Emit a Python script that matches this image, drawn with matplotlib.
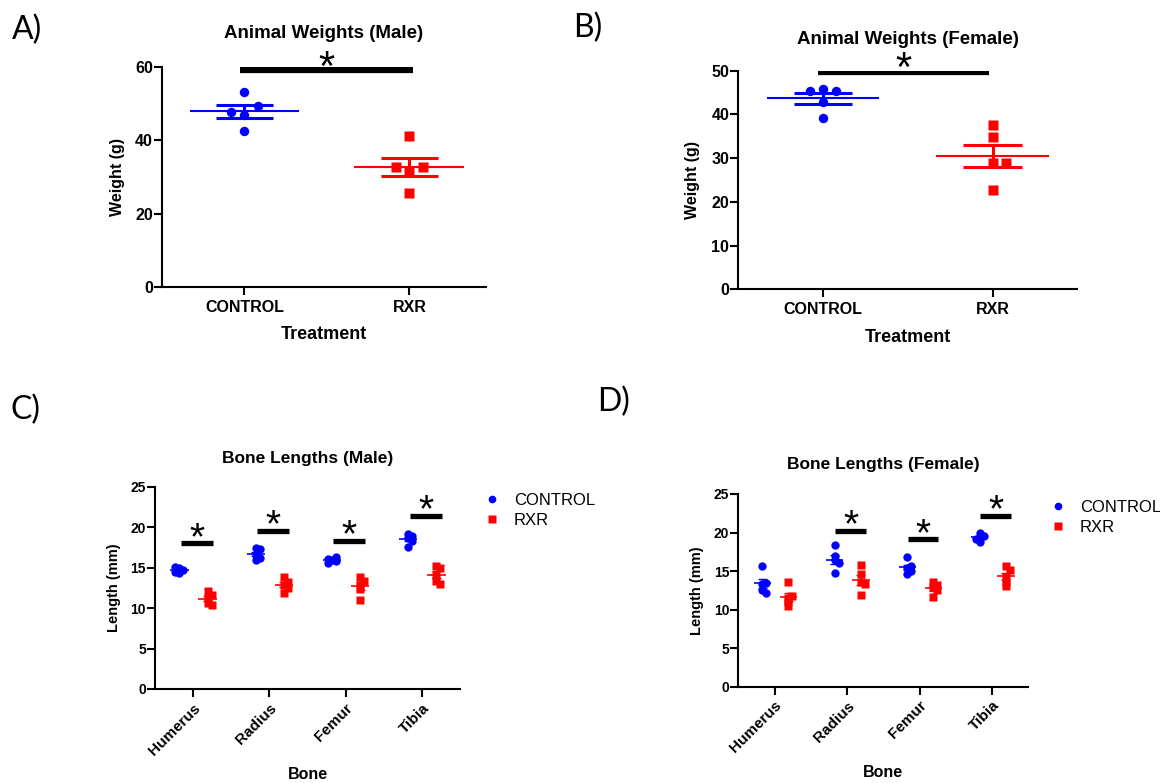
import numpy as np
import matplotlib
matplotlib.use("Agg")
import matplotlib.pyplot as plt
from matplotlib.lines import Line2D

# ---------------- data ----------------
groups = ["CONTROL", "RXR"]
weight_male_control = [53.1, 46.9, 42.6, 49.5, 47.6]
weight_male_rxr = [41.2, 31.7, 25.7, 32.8, 32.8]
weight_female_control = [45.7, 45.4, 45.4, 42.8, 39.2]
weight_female_rxr = [37.5, 34.8, 28.8, 28.8, 22.7]

bones = ["Humerus", "Radius", "Femur", "Tibia"]
male_control = [[14.9, 14.7, 15.1, 14.5, 14.3],
                [16.6, 17.4, 17.3, 16.2, 15.9],
                [16.0, 16.3, 15.8, 16.1, 15.6],
                [18.6, 19.2, 18.9, 18.3, 17.6]]
male_rxr = [[11.2, 12.1, 11.6, 10.6, 10.4],
            [12.9, 13.9, 13.2, 12.5, 11.9],
            [12.9, 13.8, 13.4, 12.3, 11.0],
            [14.1, 15.2, 14.9, 13.4, 13.0]]
female_control = [[13.3, 15.6, 13.5, 12.6, 12.2],
                  [16.4, 18.4, 16.9, 16.0, 14.8],
                  [15.4, 16.8, 15.6, 15.0, 14.6],
                  [19.4, 19.9, 19.6, 19.2, 18.8]]
female_rxr = [[11.5, 13.6, 11.8, 11.0, 10.5],
              [13.6, 15.8, 14.6, 13.3, 11.9],
              [12.9, 13.6, 13.2, 12.6, 11.6],
              [14.2, 15.6, 15.2, 13.6, 13.0]]

sig_weight_male = 59.1
sig_weight_female = 49.8
sig_male_bones = [18.0, 19.5, 18.3, 21.4]
sig_female_bones = [None, 20.2, 19.1, 22.2]

# ---------------- style ----------------
BLUE = "#0000ff"
RED = "#ff0000"
FONT = "Liberation Sans"
plt.rcParams["font.family"] = [FONT, "DejaVu Sans"]
plt.rcParams["axes.linewidth"] = 1.5

W, H = 1160, 783
fig = plt.figure(figsize=(W / 100, H / 100), dpi=100)


def add_ax(l, r, t, b):
    return fig.add_axes([l / W, 1 - b / H, (r - l) / W, (b - t) / H])


def style_ax(ax, yticksize, xticksize, ylabel, ysize):
    for s in ("top", "right"):
        ax.spines[s].set_visible(False)
    ax.tick_params(axis="both", direction="out", length=5.5, width=1.5, pad=1)
    ax.tick_params(axis="y", labelsize=yticksize)
    ax.tick_params(axis="x", pad=4, labelsize=xticksize)
    for lab in ax.get_yticklabels() + ax.get_xticklabels():
        lab.set_fontweight("bold")
    ax.set_ylabel(ylabel, fontsize=ysize, fontweight="bold")


def swarm(ax, center, values, diam_px, step=0.5, thresh=0.95):
    tr = ax.transData
    inv = tr.inverted()
    cx = tr.transform((center, 0))[0]
    placed = []
    xs = []
    offs = [0.0]
    for i in range(1, 12):
        offs += [i * step, -i * step]
    for v in values:
        y = tr.transform((center, v))[1]
        chosen = cx
        for o in offs:
            x = cx + o * diam_px
            if all(np.hypot(x - px, y - py) >= thresh * diam_px for px, py in placed):
                chosen = x
                break
        placed.append((chosen, y))
        xs.append(inv.transform((chosen, y))[0])
    return xs


def mean_sem(ax, center, values, color, half_mean, half_cap, lw_mean, lw_cap):
    v = np.asarray(values)
    m = v.mean()
    s = v.std(ddof=1) / np.sqrt(len(v))
    ax.plot([center - half_mean, center + half_mean], [m, m], color=color, lw=lw_mean,
            solid_capstyle="butt", zorder=4)
    for y in (m - s, m + s):
        ax.plot([center - half_cap, center + half_cap], [y, y], color=color, lw=lw_cap,
                solid_capstyle="butt", zorder=4)
    ax.plot([center, center], [m - s, m + s], color=color, lw=lw_cap, zorder=4)


def sig(ax, x0, x1, y, lw, star_size, dy):
    ax.plot([x0, x1], [y, y], color="black", lw=lw, solid_capstyle="butt", zorder=5)
    ax.annotate("*", xy=((x0 + x1) / 2, y), xytext=(0, dy), textcoords="offset points",
                ha="center", va="baseline", fontsize=star_size, color="black",
                family=[FONT, "DejaVu Sans"], zorder=6)


# ---------------- weight panels ----------------
def weight_panel(box, xlim, ylim, yticks, ctrl, rxr, sig_y, sig_x, title, title_y):
    ax = add_ax(*box)
    ax.set_xlim(*xlim)
    ax.set_ylim(*ylim)
    ax.set_yticks(yticks)
    ax.set_xticks([0, 1])
    ax.set_xticklabels(groups)
    style_ax(ax, 11.5, 11.5, "Weight (g)", 11.5)
    ax.set_xlabel("Treatment", fontsize=13, fontweight="bold", labelpad=8)
    xs = swarm(ax, 0, ctrl, 13.3, step=1.0, thresh=0.72)
    ax.plot(xs, ctrl, "o", color=BLUE, ms=6.8, mec="none", zorder=3, clip_on=False)
    xs = swarm(ax, 1, rxr, 13.3, step=1.0, thresh=0.72)
    ax.plot(xs, rxr, "s", color=RED, ms=6.8, mec="none", zorder=3, clip_on=False)
    mean_sem(ax, 0, ctrl, BLUE, 0.333, 0.172, 1.5, 2.2)
    mean_sem(ax, 1, rxr, RED, 0.333, 0.172, 1.5, 2.2)
    sig(ax, sig_x[0], sig_x[1], sig_y, 4.5, 30, -7)
    cx = (box[0] + box[1]) / 2
    fig.text(cx / W, 1 - title_y / H, title, ha="center", va="center",
             fontsize=13.5, fontweight="bold")
    return ax


axA = weight_panel((162, 486, 67, 287), (-0.5, 1.465), (0, 60), [0, 20, 40, 60],
                   weight_male_control, weight_male_rxr, sig_weight_male, (-0.025, 1.02),
                   "Animal Weights (Male)", 33)
axA.yaxis.set_label_coords(-0.114, 0.5)
axB = weight_panel((738.3, 1077.3, 70.7, 289.3), (-0.5, 1.5), (0, 50), [0, 10, 20, 30, 40, 50],
                   weight_female_control, weight_female_rxr, sig_weight_female, (-0.03, 0.98),
                   "Animal Weights (Female)", 40)
axB.yaxis.set_label_coords(-0.114, 0.5)


# ---------------- bone panels ----------------
def bone_panel(box, ctrl, rxr, sigs, title, title_y, legend_xy, offc, offr):
    ax = add_ax(*box)
    ax.set_xlim(-0.5, 3.5)
    ax.set_ylim(0, 25)
    ax.set_yticks([0, 5, 10, 15, 20, 25])
    ax.set_xticks(range(len(bones)))
    ax.set_xticklabels(bones, rotation=45, ha="right", rotation_mode="anchor")
    style_ax(ax, 10, 11, "Length (mm)", 10.5)
    ax.tick_params(axis="x", pad=3)
    ax.set_xlabel("Bone", fontsize=11.5, fontweight="bold", labelpad=7)
    for i in range(len(bones)):
        xs = swarm(ax, i + offc, ctrl[i], 8.0, step=0.5, thresh=0.45)
        ax.plot(xs, ctrl[i], "o", color=BLUE, ms=6.0, mec="none", zorder=3)
        xs = swarm(ax, i + offr, rxr[i], 8.0, step=0.5, thresh=0.45)
        ax.plot(xs, rxr[i], "s", color=RED, ms=6.0, mec="none", zorder=3)
        mean_sem(ax, i + offc, ctrl[i], BLUE, 0.12, 0.06, 1.2, 1.0)
        mean_sem(ax, i + offr, rxr[i], RED, 0.12, 0.06, 1.2, 1.0)
        if sigs[i] is not None:
            sig(ax, i - 0.16, i + 0.26, sigs[i], 3.8, 28, -4)
    cx = (box[0] + box[1]) / 2
    fig.text(cx / W, 1 - title_y / H, title, ha="center", va="center",
             fontsize=12.5, fontweight="bold")
    handles = [Line2D([], [], marker="o", ls="none", color=BLUE, ms=5.5, mec="none"),
               Line2D([], [], marker="s", ls="none", color=RED, ms=5.5, mec="none")]
    fig.legend(handles, groups, loc="upper left",
               bbox_to_anchor=(legend_xy[0] / W, 1 - legend_xy[1] / H),
               frameon=False, fontsize=12, handlelength=1.0, handletextpad=0.8,
               labelspacing=0.3, borderpad=0, borderaxespad=0)
    return ax


axC = bone_panel((155, 460, 486.7, 689), male_control, male_rxr, sig_male_bones,
                 "Bone Lengths (Male)", 458, (484, 493), -0.18, 0.19)
axC.yaxis.set_label_coords(-0.11, 0.5)
axD = bone_panel((738.3, 1028.3, 494, 686.7), female_control, female_rxr, sig_female_bones,
                 "Bone Lengths (Female)", 465, (1050, 500), -0.17, 0.19)
axD.yaxis.set_label_coords(-0.119, 0.5)

# ---------------- panel letters ----------------
for lab, x, y in [("A)", 12, 30), ("B)", 573, 28), ("C)", 10, 410), ("D)", 597, 402)]:
    fig.text(x / W, 1 - y / H, lab, ha="left", va="center", fontsize=23,
             family=["Lato", "DejaVu Sans"])

fig.savefig("out.png", dpi=100)
